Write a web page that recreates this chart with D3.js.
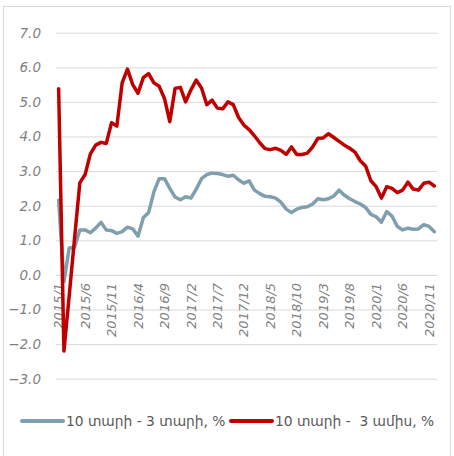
<!DOCTYPE html>
<html>
<head>
<meta charset="utf-8">
<script src="https://cdn.jsdelivr.net/npm/d3@7"></script>
<style>
  html, body { margin: 0; padding: 0; background: #fff; }
  svg { display: block; }
</style>
</head>
<body>
<svg id="chart" width="454" height="456"></svg>
<script>
// Monthly categories, 2015/1 .. 2020/12
const startYear = 2015, endYear = 2020;
const categories = [];
for (let y = startYear; y <= endYear; y++) for (let m = 1; m <= 12; m++) categories.push(y + "/" + m);

// Every fifth month is labelled on the axis
const tickLabels = ["2015/1","2015/6","2015/11","2016/4","2016/9","2017/2","2017/7","2017/12",
  "2018/5","2018/10","2019/3","2019/8","2020/1","2020/6","2020/11"];

const yTicks = [7, 6, 5, 4, 3, 2, 1, 0, -1, -2, -3];

const seriesNames = ["10 տարի - 3 տարի, %", "10 տարի -  3 ամիս, %"];

// 10y - 3y spread, %
const spread10y3y = [
  2.16, -0.2, 0.78, 0.80, 1.30, 1.30, 1.22, 1.35, 1.52, 1.30, 1.28, 1.20,
  1.25, 1.38, 1.33, 1.12, 1.65, 1.80, 2.40, 2.78, 2.78, 2.50, 2.25, 2.17,
  2.26, 2.22, 2.48, 2.78, 2.90, 2.94, 2.93, 2.90, 2.85, 2.88, 2.75, 2.65,
  2.72, 2.45, 2.35, 2.27, 2.26, 2.22, 2.10, 1.90, 1.80, 1.90, 1.95, 1.97,
  2.05, 2.20, 2.17, 2.20, 2.28, 2.45, 2.30, 2.20, 2.12, 2.05, 1.95, 1.75,
  1.68, 1.52, 1.83, 1.70, 1.40, 1.30, 1.35, 1.32, 1.33, 1.45, 1.40, 1.25
];

// 10y - 3m spread, %
const spread10y3m = [
  5.38, -2.20, -0.60, 1.05, 2.66, 2.90, 3.50, 3.75, 3.83, 3.80, 4.40, 4.30,
  5.55, 5.95, 5.50, 5.25, 5.70, 5.82, 5.55, 5.45, 5.10, 4.43, 5.39, 5.42,
  5.00, 5.35, 5.63, 5.40, 4.92, 5.05, 4.82, 4.80, 5.00, 4.92, 4.55, 4.33,
  4.20, 4.02, 3.82, 3.65, 3.62, 3.66, 3.60, 3.48, 3.70, 3.48, 3.48, 3.52,
  3.70, 3.95, 3.96, 4.08, 3.97, 3.86, 3.75, 3.66, 3.55, 3.30, 3.15, 2.72,
  2.55, 2.22, 2.55, 2.50, 2.38, 2.45, 2.68, 2.48, 2.45, 2.65, 2.68, 2.57
];

const seriesColors = ["#7f9fae", "#c00000"];

const svg = d3.select("#chart");

// Outer frame
svg.append("rect")
  .attr("x", 3.5).attr("y", 6.5)
  .attr("width", 447).attr("height", 470)
  .attr("fill", "none").attr("stroke", "#d9d9d9").attr("stroke-width", 1);

const plot = { left: 56, right: 437, top: 32.7, bottom: 378.7 };

const x = d3.scaleBand().domain(categories).range([plot.left, plot.right]).padding(0);
const xc = c => x(c) + x.bandwidth() / 2;
const y = d3.scaleLinear().domain([-3, 7]).range([plot.bottom, plot.top]);

// Horizontal gridlines and y labels
const yAxis = d3.axisLeft(y).tickValues(yTicks).tickFormat(d3.format(".1f"))
  .tickSize(-(plot.right - plot.left)).tickPadding(15);
const gy = svg.append("g").attr("transform", `translate(${plot.left},0)`).call(yAxis);
gy.select(".domain").remove();
gy.selectAll(".tick line").attr("stroke", "#d9d9d9").attr("stroke-width", 1);
gy.selectAll(".tick text")
  .attr("fill", "#808080")
  .style("font-family", "'DejaVu Sans', sans-serif")
  .style("font-style", "italic")
  .style("font-size", "13.5px");

// Category axis along the zero line
const xAxis = d3.axisBottom(x)
  .tickValues(tickLabels).tickSize(0).tickPadding(0);
const gx = svg.append("g").attr("transform", `translate(0,${y(0)})`).call(xAxis);
gx.select(".domain").attr("stroke", "#d9d9d9").attr("stroke-width", 1);
gx.selectAll(".tick text")
  .attr("transform", "rotate(-90)")
  .attr("text-anchor", "end")
  .attr("x", -8).attr("y", 0).attr("dy", "0.35em")
  .attr("fill", "#808080")
  .style("font-family", "'DejaVu Sans', sans-serif")
  .style("font-style", "italic")
  .style("font-size", "13px");

// Lines
const line = d3.line().x((d, i) => xc(categories[i])).y(d => y(d));
[spread10y3y, spread10y3m].forEach((vals, k) => {
  svg.append("path")
    .datum(vals)
    .attr("d", line)
    .attr("fill", "none")
    .attr("stroke", seriesColors[k])
    .attr("stroke-width", 3.5)
    .attr("stroke-linejoin", "round")
    .attr("stroke-linecap", "round");
});

// Legend
const legend = svg.append("g").attr("transform", "translate(0,421)");
const legendItems = [
  { x0: 22, x1: 63, tx: 66 },
  { x0: 231, x1: 272, tx: 275 }
];
legendItems.forEach((it, k) => {
  legend.append("line")
    .attr("x1", it.x0).attr("x2", it.x1).attr("y1", 0).attr("y2", 0)
    .attr("stroke", seriesColors[k]).attr("stroke-width", 4)
    .attr("stroke-linecap", "round");
  legend.append("text")
    .attr("x", it.tx).attr("y", 0).attr("dy", "0.35em")
    .attr("fill", "#595959")
    .style("font-family", "'DejaVu Sans', sans-serif")
    .style("font-size", "13.8px")
    .style("white-space", "pre")
    .text(seriesNames[k]);
});
</script>
</body>
</html>
